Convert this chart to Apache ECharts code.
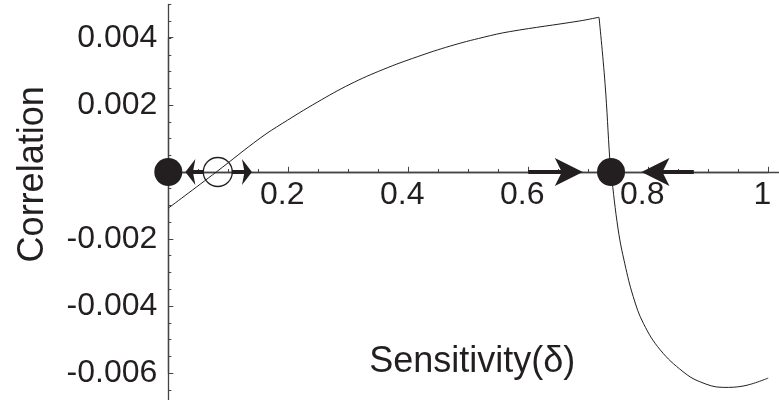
<!DOCTYPE html>
<html>
<head>
<meta charset="utf-8">
<script src="https://cdn.jsdelivr.net/npm/echarts@6/dist/echarts.min.js"></script>
<style>
html, body { margin: 0; padding: 0; background: #fff; }
#chart { width: 779px; height: 400px; }
</style>
</head>
<body>
<div id="chart"></div>
<script>
// curve: rising branch up to the peak, then the drop
const sensitivityRise = [0, 0.08, 0.153, 0.191, 0.248, 0.303, 0.358, 0.415, 0.47, 0.525, 0.569, 0.686, 0.718]
const correlationRise = [-0.00108, 0, 0.00101, 0.00146, 0.00208, 0.00262, 0.00306, 0.00344, 0.00376, 0.00402, 0.00419, 0.00451, 0.00462]
const sensitivityDrop = [0.718, 0.728, 0.736, 0.738, 0.75, 0.761, 0.775, 0.792, 0.82, 0.858, 0.886, 0.925, 0.958, 1.0]
const correlationDrop = [0.00462, 0.00265, 0.00036, 0, -0.00173, -0.00274, -0.00372, -0.00452, -0.00531, -0.00596, -0.00626, -0.00643, -0.00639, -0.00615]

// fixed points on the sensitivity axis
const stablePoints = [0, 0.738]
const unstablePoints = [0.0825]

// arrows along correlation = 0 : shaft [from, to], heads [centre, direction]
const arrowShafts = [[0.058, 0.036], [0.106, 0.131], [0.6, 0.678], [0.876, 0.803]]
const smallHeads = [[0.0285, -1], [0.1395, 1]]
const largeHeads = [[0.691, 1], [0.7887, -1]]

// labelled ticks
const xLabelTicks = [0.2, 0.4, 0.6, 0.8, 1]
const yLabelTicks = [-0.006, -0.004, -0.002, 0.002, 0.004]

const ink = '#231f20'
const axisColor = '#444'
const font = 'Liberation Sans'

const chart = echarts.init(document.getElementById('chart'))

const zip = (xs, ys) => xs.map((x, i) => [x, ys[i]])

const shaftSeries = arrowShafts.map(s => ({
  type: 'line',
  xAxisIndex: 0, yAxisIndex: 0,
  data: [[s[0], 0], [s[1], 0]],
  symbol: 'none',
  silent: true,
  lineStyle: { color: ink, width: 4, cap: 'butt' },
  z: 3
}))

const headSeries = (heads, w, h) => ({
  type: 'scatter',
  xAxisIndex: 0, yAxisIndex: 0,
  clip: false,
  symbol: 'arrow',
  symbolSize: [w, h],
  data: heads.map(hd => ({ value: [hd[0], 0], symbolRotate: hd[1] > 0 ? -90 : 90 })),
  itemStyle: { color: ink, opacity: 1 },
  z: 4
})

const option = {
  animation: false,
  backgroundColor: '#fff',
  grid: [
    // minor-tick grid: extends past the picture edges
    { left: 168.3, right: 0, top: 4.5, bottom: -6.5, outerBoundsMode: 'none', containLabel: false },
    // labelled grid
    { left: 168.3, right: 10.7, top: 37.7, bottom: 27, outerBoundsMode: 'none', containLabel: false }
  ],
  xAxis: [
    {
      gridIndex: 0, type: 'value', min: 0, max: 1.018, interval: 0.05,
      axisLine: { show: true, onZero: true, lineStyle: { color: axisColor, width: 1.3 } },
      axisTick: { show: true, inside: true, length: 3, lineStyle: { color: axisColor } },
      axisLabel: { show: false },
      splitLine: { show: false }
    },
    {
      // sits on correlation = 0 of the labelled grid (0.4 of its height above the bottom)
      gridIndex: 1, type: 'value', min: 0, max: 1, interval: 0.2, offset: -201.2,
      axisLine: { show: true, onZero: false, lineStyle: { color: axisColor, width: 1.3 } },
      axisTick: { show: true, inside: true, length: 5, lineStyle: { color: axisColor } },
      axisLabel: {
        margin: 7, fontSize: 32, fontFamily: font, color: ink, padding: [0, 12, 0, 0],
        formatter: v => xLabelTicks.some(t => Math.abs(t - v) < 1e-9) ? String(+v.toFixed(1)) : ''
      },
      splitLine: { show: false },
      name: 'Sensitivity(δ)', nameLocation: 'middle', nameGap: 172, nameMoveOverlap: false,
      nameTextStyle: { fontSize: 36, fontFamily: font, color: ink, padding: [0, 0, 0, 8] }
    }
  ],
  yAxis: [
    {
      gridIndex: 0, type: 'value', min: -0.007, max: 0.005, interval: 0.0005,
      axisLine: { show: true, onZero: true, lineStyle: { color: axisColor, width: 1.3 } },
      axisTick: { show: true, inside: true, length: 3, lineStyle: { color: axisColor } },
      axisLabel: { show: false },
      splitLine: { show: false }
    },
    {
      gridIndex: 1, type: 'value', min: -0.006, max: 0.004, interval: 0.002,
      axisLine: { show: true, onZero: false, lineStyle: { color: axisColor, width: 1.3 } },
      axisTick: { show: true, inside: true, length: 5, lineStyle: { color: axisColor } },
      axisLabel: {
        margin: 11, fontSize: 32, fontFamily: font, color: ink,
        formatter: v => yLabelTicks.some(t => Math.abs(t - v) < 1e-9) ? v.toFixed(3) : ''
      },
      splitLine: { show: false },
      name: 'Correlation', nameLocation: 'middle', nameRotate: 90, nameGap: 117, nameMoveOverlap: false,
      nameTextStyle: { fontSize: 36, fontFamily: font, color: ink, padding: [0, 0, 0, 62] }
    }
  ],
  series: [
    {
      type: 'line', xAxisIndex: 0, yAxisIndex: 0,
      data: zip(sensitivityRise, correlationRise),
      smooth: 0.4, symbol: 'none', clip: false,
      lineStyle: { color: ink, width: 1 }, z: 2
    },
    {
      type: 'line', xAxisIndex: 0, yAxisIndex: 0,
      data: zip(sensitivityDrop, correlationDrop),
      smooth: 0.4, symbol: 'none', clip: false,
      lineStyle: { color: ink, width: 1 }, z: 2
    },
    ...shaftSeries,
    headSeries(smallHeads, 19.5, 10),
    headSeries(largeHeads, 21, 28),
    {
      type: 'scatter', xAxisIndex: 0, yAxisIndex: 0, clip: false,
      symbol: 'circle', symbolSize: 28,
      data: stablePoints.map(x => [x, 0]),
      itemStyle: { color: ink, opacity: 1 }, z: 5
    },
    {
      type: 'scatter', xAxisIndex: 0, yAxisIndex: 0, clip: false,
      symbol: 'circle', symbolSize: 29,
      data: unstablePoints.map(x => [x, 0]),
      itemStyle: { color: 'rgba(0,0,0,0)', borderColor: ink, borderWidth: 1.3, opacity: 1 }, z: 5
    }
  ]
}

chart.setOption(option)
</script>
</body>
</html>
